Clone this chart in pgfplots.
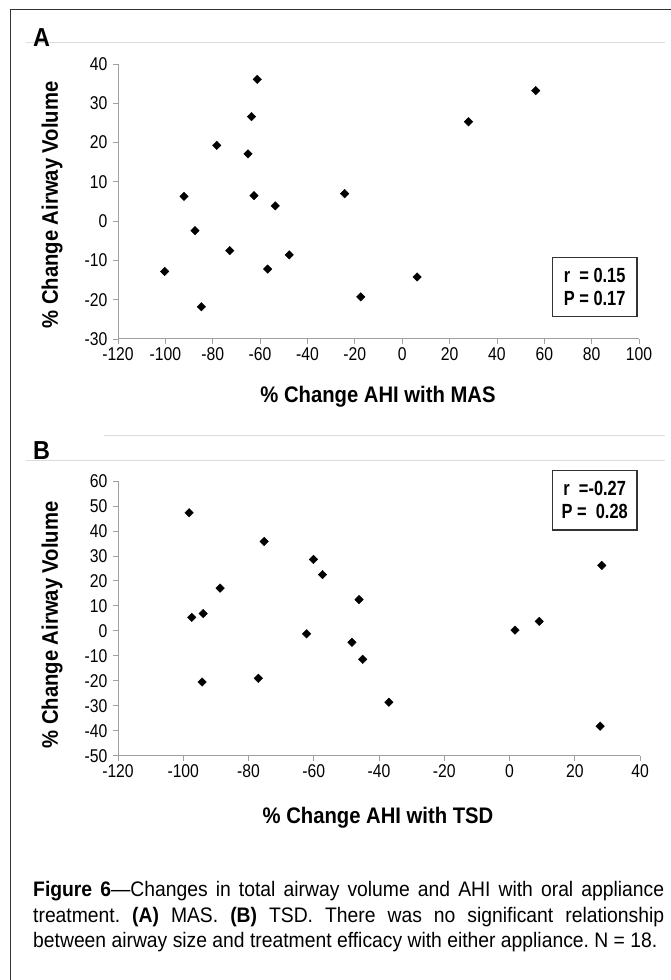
\documentclass[border=0pt]{standalone}
\usepackage{fontspec}
\setmainfont{Liberation Sans}
\newfontfamily\tickfont{Liberation Sans}[FakeStretch=0.85]
\newfontfamily\labfont{Liberation Sans}[FakeStretch=0.9]
\newfontfamily\boxfont{Liberation Sans}[FakeStretch=0.8]
\newfontfamily\capfont{Liberation Sans}[FakeStretch=0.92]
\usepackage{pgfplots}
\usepackage{pgfplotstable}
\pgfplotsset{compat=1.18}

\definecolor{axgray}{HTML}{A0A0A0}
\definecolor{rulegray}{HTML}{DCDCDC}
\definecolor{framegray}{HTML}{333333}

% panel A: % change AHI with MAS vs % change airway volume
\pgfplotstableread{
x y
-61.2 36.1
-63.6 26.6
-78.3 19.3
-65.1 17.1
-92.1 6.3
-62.6 6.5
-53.6 3.9
-87.5 -2.4
-72.8 -7.5
-47.7 -8.6
-100.3 -12.8
-56.8 -12.2
-84.8 -21.8
56.4 33.2
28.0 25.3
-24.3 7.0
6.3 -14.2
-17.5 -19.3
}\mastable

% panel B: % change AHI with TSD vs % change airway volume
\pgfplotstableread{
x y
-98.2 47.3
-75.2 35.8
-60.1 28.6
-57.3 22.5
-88.7 17.1
-97.4 5.4
-93.9 6.9
-62.2 -1.2
-94.2 -20.5
-77.0 -19.0
-46.1 12.5
-48.3 -4.6
-45.0 -11.4
-37.0 -28.6
1.7 0.3
9.1 3.8
28.3 26.2
27.8 -38.2
}\tsdtable

\pgfplotsset{
  panel/.style={
    scale only axis,
    anchor=south west,
    axis lines=left,
    axis line style={axgray, line width=1pt, -},
    tick style={axgray, line width=0.8pt},
    tick align=outside,
    major tick length=5pt,
    xtick pos=bottom,
    ytick pos=left,
    /pgf/number format/assume math mode=true,
    tick label style={font=\tickfont\fontsize{18.5}{21}\selectfont, text=black},
    yticklabel style={xshift=-2pt},
    clip=false,
  },
  dots/.style={only marks, mark=square*, mark size=3pt,
    mark options={rotate=45, fill=black, draw=black}},
}

\begin{document}
\begin{tikzpicture}[x=1pt, y=1pt]
\path[use as bounding box] (0,0) rectangle (670,980);

% outer frame (left and top edges only)
\draw[framegray, line width=1.8pt] (10.5,-5) -- (10.5,970.5) -- (680,970.5);

% ---------- A ----------
\draw[rulegray, line width=1pt] (26,937) -- (665,937);
\node[font=\labfont\bfseries\fontsize{26}{30}\selectfont] at (41.5,942) {A};

\begin{axis}[panel,
    at={(118pt,641pt)},
    width=521pt, height=275pt,
    xmin=-120, xmax=100,
    ymin=-30, ymax=40,
    xtick={-120,-100,...,100},
    ytick={-30,-20,...,40},
]
\addplot[dots] table {\mastable};
\end{axis}

\node[font=\labfont\bfseries\fontsize{22.5}{26}\selectfont] at (378,583) {\% Change AHI with MAS};
\node[rotate=90, font=\labfont\bfseries\fontsize{22.5}{26}\selectfont] at (52,775) {\% Change Airway Volume};
\node[draw=framegray, line width=1.3pt, minimum width=84.7pt, minimum height=59pt,
      align=center, font=\boxfont\bfseries\fontsize{20.5}{23}\selectfont]
  at (594.7,692.8) {r\ \ = 0.15\\P = 0.17};

% ---------- B ----------
\draw[rulegray, line width=1pt] (104,544) -- (665,544);
\draw[rulegray, line width=1pt] (26,519.3) -- (665,519.3);
\node[font=\labfont\bfseries\fontsize{26}{30}\selectfont] at (41.5,529.5) {B};

\begin{axis}[panel,
    at={(118pt,224.3pt)},
    width=522pt, height=274.7pt,
    xmin=-120, xmax=40,
    ymin=-50, ymax=60,
    xtick={-120,-100,...,40},
    ytick={-50,-40,...,60},
]
\addplot[dots] table {\tsdtable};
\end{axis}

\node[font=\labfont\bfseries\fontsize{22.5}{26}\selectfont] at (378,162) {\% Change AHI with TSD};
\node[rotate=90, font=\labfont\bfseries\fontsize{22.5}{26}\selectfont] at (52,355) {\% Change Airway Volume};
\node[draw=framegray, line width=1.3pt, minimum width=84.7pt, minimum height=59.3pt,
      align=center, font=\boxfont\bfseries\fontsize{20.5}{23}\selectfont]
  at (594.7,479.7) {r\ \ =-0.27\\P =\ \ 0.28};

% ---------- caption ----------
\node[anchor=base west, inner sep=0pt, text width=631pt, align=justify,
      font=\capfont\fontsize{21}{25.5}\selectfont]
  at (33,83) {\frenchspacing\parfillskip=0pt
  {\bfseries Figure 6}—Changes in total airway volume and AHI with oral appliance\linebreak
  treatment. {\bfseries (A)} MAS. {\bfseries (B)} TSD. There was no significant relationship\linebreak
  between airway size and treatment efficacy with either appliance.~N~=~18.};
\end{tikzpicture}
\end{document}
